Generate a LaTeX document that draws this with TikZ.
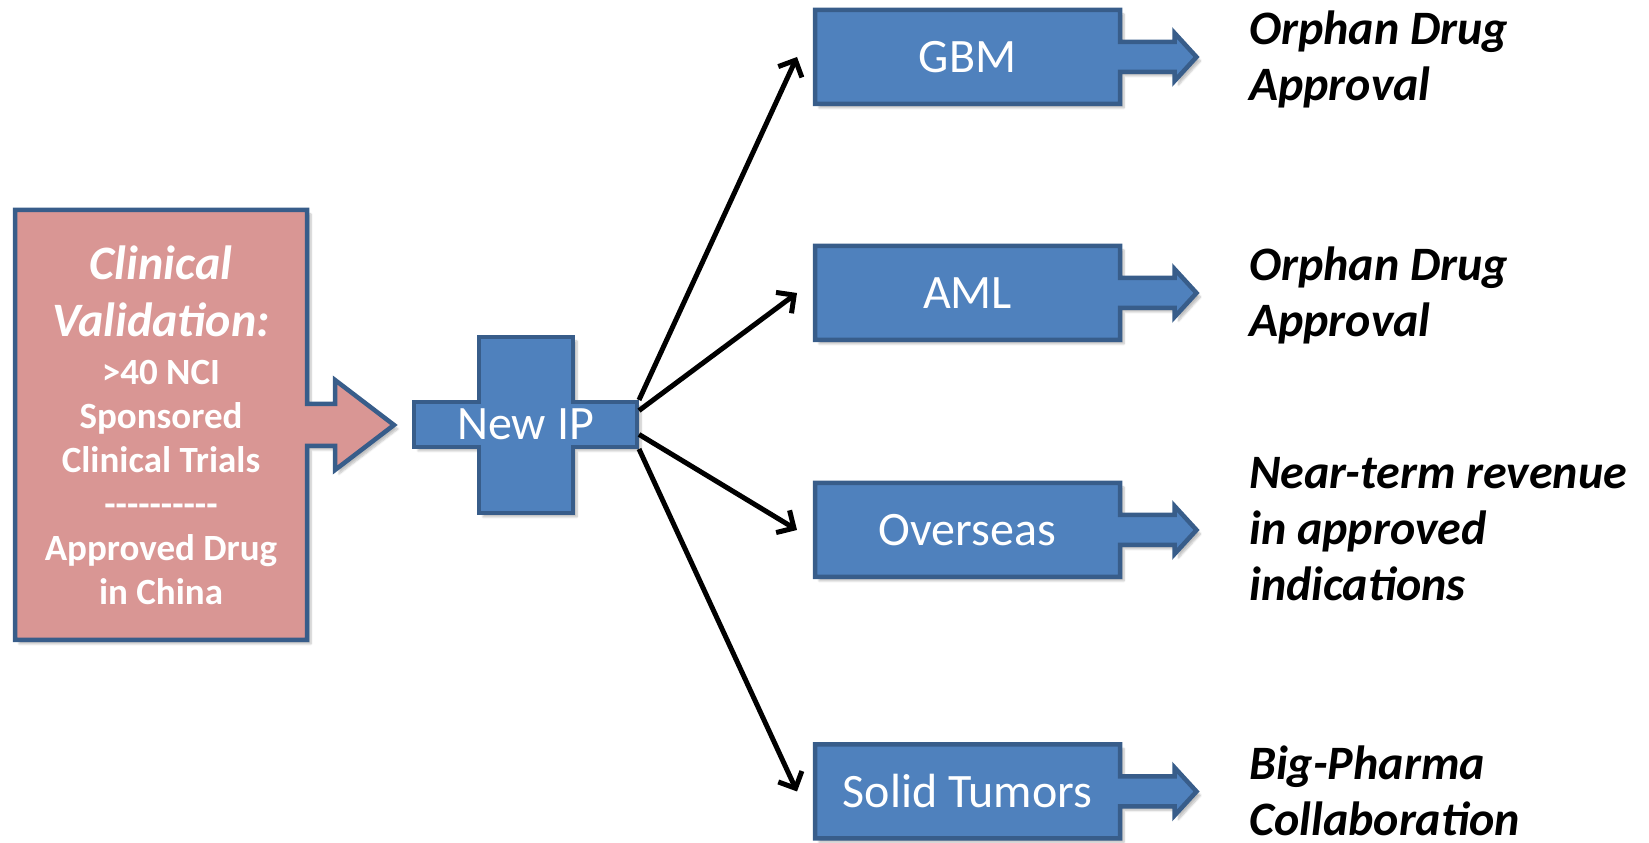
\documentclass[tikz,border=0pt]{standalone}
\usepackage{fontspec}
\setmainfont{Carlito}[Ligatures=TeXOff]
\usetikzlibrary{arrows.meta, shadows.blur}

\definecolor{boxblue}{HTML}{4F81BD}
\definecolor{lineblue}{HTML}{385D8A}
\definecolor{boxrose}{HTML}{D99694}

\begin{document}
\begin{tikzpicture}[x=1pt, y=1pt,
        shape line/.style={draw=lineblue, line width=4.5pt, line join=miter, fill=boxblue,
            blur shadow={shadow xshift=4pt, shadow yshift=-4pt, shadow opacity=25, shadow blur steps=6}},
        box text/.style={text=white, font=\fontsize{48}{56}\selectfont,
            minimum width=309pt, minimum height=98pt, inner sep=0pt, outer sep=0pt},
        outcome/.style={anchor=west, align=left, inner sep=0pt,
            font=\fontsize{48}{56}\selectfont\bfseries\itshape},
        link/.style={line width=5pt, -{Straight Barb[length=13pt, width=26pt]}}]
    \useasboundingbox (0, 0) rectangle (1649, 843);
    % source box with its arrow
    \path [shape line, fill=boxrose] (15, 203) -- (15, 633) -- (307, 633) -- (307, 439)
        -- (335, 439) -- (335, 463) -- (394, 418) -- (335, 373) -- (335, 397) -- (307, 397)
        -- (307, 203) -- cycle;
    \node [text=white, align=center, font=\fontsize{37}{44}\selectfont\bfseries] (valid) at (161, 418)
        {{\fontsize{48}{56}\selectfont\itshape Clinical}\\[13pt]{\fontsize{48}{56}\selectfont\itshape Validation:}\\[4pt]
         >40 NCI\\Sponsored\\Clinical Trials\\----------\\Approved Drug\\in China};
    % the cross
    \path [shape line] (479, 506) -- (573, 506) -- (573, 441) -- (637, 441) -- (637, 396) -- (573, 396)
        -- (573, 330) -- (479, 330) -- (479, 396) -- (414, 396) -- (414, 441) -- (479, 441) -- cycle;
    \node [text=white, font=\fontsize{48}{56}\selectfont, minimum width=227pt, minimum height=49pt,
        inner sep=0pt, outer sep=0pt] (newip) at (525.5, 418.5) {New IP};
    % target boxes
    \path [shape line, shift={(967.5, 786)}] (-152.5, -47) -- (-152.5, 47) -- (152.5, 47) -- (152.5, 15)
        -- (207, 15) -- (207, 24) -- (229, 0) -- (207, -24) -- (207, -15) -- (152.5, -15)
        -- (152.5, -47) -- cycle;
    \path [shape line, shift={(967.5, 550)}] (-152.5, -47) -- (-152.5, 47) -- (152.5, 47) -- (152.5, 15)
        -- (207, 15) -- (207, 24) -- (229, 0) -- (207, -24) -- (207, -15) -- (152.5, -15)
        -- (152.5, -47) -- cycle;
    \path [shape line, shift={(967.5, 313)}] (-152.5, -47) -- (-152.5, 47) -- (152.5, 47) -- (152.5, 15)
        -- (207, 15) -- (207, 24) -- (229, 0) -- (207, -24) -- (207, -15) -- (152.5, -15)
        -- (152.5, -47) -- cycle;
    \path [shape line, shift={(967.5, 51.5)}] (-152.5, -47) -- (-152.5, 47) -- (152.5, 47) -- (152.5, 15)
        -- (207, 15) -- (207, 24) -- (229, 0) -- (207, -24) -- (207, -15) -- (152.5, -15)
        -- (152.5, -47) -- cycle;
    \node [box text] (gbm) at (967.5, 786) {GBM};
    \node [box text] (aml) at (967.5, 550) {AML};
    \node [box text] (overseas) at (967.5, 313) {Overseas};
    \node [box text] (solid) at (967.5, 51.5) {Solid Tumors};
    % outcomes
    \node [outcome] (gbmout) at (1249, 784) {Orphan Drug\\Approval};
    \node [outcome] (amlout) at (1249, 548) {Orphan Drug\\Approval};
    \node [outcome] (overseasout) at (1249, 314) {Near-term revenue\\in approved\\indications};
    \node [outcome] (solidout) at (1249, 52) {Big-Pharma\\Collaboration};
    % links
    \draw [link] (newip.north east) -- ([xshift=-16pt]gbm.west);
    \draw [link] (newip.7) -- ([xshift=-16pt]aml.west);
    \draw [link] (newip.-5) -- ([xshift=-16pt]overseas.west);
    \draw [link] (newip.south east) -- ([xshift=-16pt]solid.west);
\end{tikzpicture}
\end{document}
